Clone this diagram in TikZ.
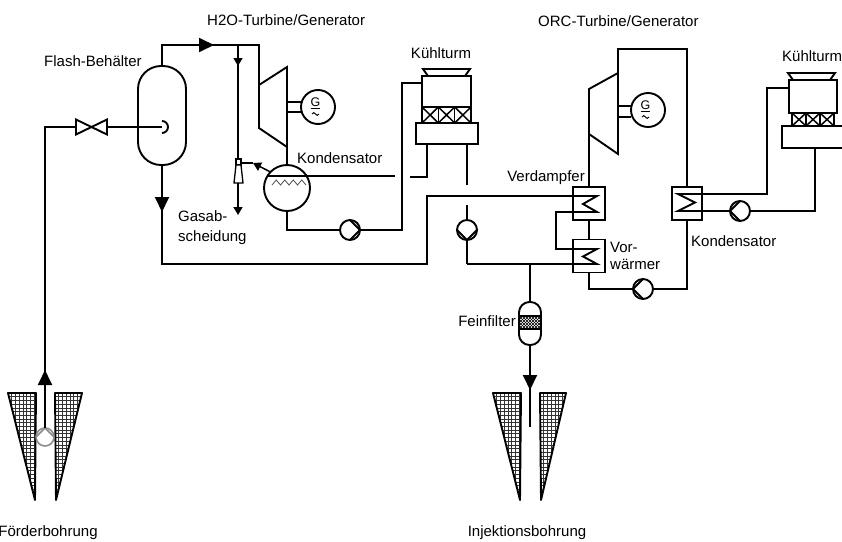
\documentclass[tikz,border=0pt]{standalone}
\usepackage{fontspec}
\setmainfont{Liberation Sans}
\usetikzlibrary{arrows.meta}
\begin{document}
\begin{tikzpicture}[x=1pt,y=-1pt,
  pipe/.style={line width=1.9pt},
  thinpipe/.style={line width=1.5pt},
  bigflow/.style={pipe,-{Triangle[length=15pt,width=14pt]}},
  smallflow/.style={thinpipe,-{Triangle[length=8pt,width=9pt]}},
  lbl/.style={font=\fontsize{15}{18}\selectfont, inner sep=0pt},
  glbl/.style={font=\fontsize{12.5}{13}\selectfont, inner sep=0pt},
  pumpbase/.style={circle, draw, line width=1.9pt, fill=white, minimum size=20pt, inner sep=0pt, outer sep=0pt},
  pumpR/.style={pumpbase, path picture={\draw[line width=1.8pt] (path picture bounding box.north) -- (path picture bounding box.east) -- (path picture bounding box.south);}},
  pumpL/.style={pumpbase, path picture={\draw[line width=1.8pt] (path picture bounding box.north) -- (path picture bounding box.west) -- (path picture bounding box.south);}},
  pumpD/.style={pumpbase, path picture={\draw[line width=1.8pt] (path picture bounding box.west) -- (path picture bounding box.south) -- (path picture bounding box.east);}},
  wellpump/.style={circle, draw=black!45, line width=1.6pt, fill=white, minimum size=18pt, inner sep=0pt, outer sep=0pt,
    path picture={\draw[black!45, line width=1.5pt] (path picture bounding box.west) -- (path picture bounding box.north) -- (path picture bounding box.east);}},
  gen/.style={circle, draw, line width=1.9pt, fill=white, minimum size=34pt, inner sep=0pt, outer sep=0pt},
  hx/.style={draw, line width=1.9pt, minimum width=32pt, minimum height=33pt, inner sep=0pt, outer sep=0pt},
  vessel/.style={draw, line width=1.9pt, inner sep=0pt, outer sep=0pt},
  boxpart/.style={draw, line width=1.9pt, inner sep=0pt, outer sep=0pt},
  fillx/.style={line width=1.5pt},
  gridline/.style={line width=0.45pt, black!80},
  wedgeline/.style={line width=1.9pt, line join=round},
]
\useasboundingbox (0,0) rectangle (842,541);

% ---------- wells (screened cones) ----------
\foreach \a/\b/\c in {8/36/35,55/82/56,493/521/520,540/566/541}{
  \begin{scope}
    \clip (\a,393) -- (\b,393) -- (\c,500) -- cycle;
    \foreach \k in {0,...,9} \draw[gridline] (\a+3.7*\k,390) -- (\a+3.7*\k,502);
    \foreach \k in {0,...,29} \draw[gridline] (\a-2,393+3.7*\k) -- (\b+2,393+3.7*\k);
  \end{scope}
  \draw[wedgeline] (\a,393) -- (\b,393) -- (\c,500) -- cycle;
}

% ---------- equipment ----------
\node[vessel, rounded corners=23pt, minimum width=48pt, minimum height=99pt] (flash) at (162,115.5) {};
\node[vessel, rounded corners=10.5pt, minimum width=22pt, minimum height=43pt] (filt) at (530,323.5) {};
\node[circle, draw, line width=1.9pt, minimum size=46pt, inner sep=0pt, outer sep=0pt] (condL) at (287,188) {};
\node[gen] (gen1) at (318,107) {};
\node[gen] (gen2) at (648,110) {};
\node[hx] (verd) at (589,203.5) {};
\node[hx] (vorw) at (589,256) {};
\node[hx, minimum width=30pt] (kondR) at (687,203.5) {};
\node[pumpR] (p1) at (350,230) {};
\node[pumpD] (p2) at (467,230) {};
\node[pumpL] (p3) at (740,211) {};
\node[pumpL] (p4) at (643,289) {};
\node[wellpump] (p5) at (45,437) {};

% cooling tower (H2O cycle)
\node[boxpart, minimum width=49pt, minimum height=31pt] (towL) at (446.5,91.5) {};
\node[boxpart, minimum width=62pt, minimum height=21pt] (basL) at (447,133.5) {};
\draw[pipe, line join=miter] (428,76) -- (423,69) -- (470,69) -- (465,76);
\foreach \i in {0,1,2}{
  \draw[fillx] (422+16.33*\i,107) rectangle (438.33+16.33*\i,123);
  \draw[fillx] (422+16.33*\i,107) -- (438.33+16.33*\i,123) (422+16.33*\i,123) -- (438.33+16.33*\i,107);
}
% cooling tower (ORC cycle)
\node[boxpart, minimum width=48pt, minimum height=33pt] (towR) at (813,96.5) {};
\draw[pipe] (842,126) -- (782,126) -- (782,148) -- (842,148);
\draw[pipe, line join=miter] (793,80) -- (788,73) -- (835,73) -- (830,80);
\foreach \i in {0,1,2}{
  \draw[fillx] (792+14*\i,113) rectangle (806+14*\i,126);
  \draw[fillx] (792+14*\i,113) -- (806+14*\i,126) (792+14*\i,126) -- (806+14*\i,113);
}

% ---------- production line and flash vessel ----------
\draw[pipe] (p5.north) -- (45,127) -- (76,127);
\draw[bigflow] (45,395) -- (45,370);
\draw[pipe, line join=miter] (76,119.5) -- (107,134.5) -- (107,119.5) -- (76,134.5) -- cycle;
\draw[pipe] (107,127) -- (162,127);
\draw[pipe] (162,121) arc[start angle=-90, end angle=90, radius=6];

% steam to H2O turbine
\draw[pipe] (flash.north) -- (162,45) -- (259,45) -- (259,85);
\draw[bigflow] (190,45) -- (214,45);
\draw[pipe, line join=miter] (259,85) -- (287,67) -- (287,147) -- (259,128) -- cycle;
\draw[pipe] (287,147) -- (condL.north);
\draw[pipe] (287,102) -- (302,102) (287,112) -- (302,112);
\node[glbl] (g1) at (315.5,103.5) {\underline{G}};
\draw[line width=0.9pt] (312,114) sin (313.75,112.6) cos (315.5,114) sin (317.25,115.4) cos (319,114);

% non-condensable gas extraction
\draw[thinpipe] (238,45) -- (238,159);
\draw[smallflow] (238,50) -- (238,66);
\draw[line width=1.3pt, fill=white] (236,159) rectangle (241,165);
\draw[line width=1.3pt, fill=white] (236,165) -- (241,165) -- (243,183) -- (234,183) -- cycle;
\draw[smallflow] (238,183) -- (238,215);
\draw[thinpipe] (241,163) -- (253,163);
\draw[smallflow] (270.5,172) -- (253,163);

% condenser internals and cooling water
\draw[pipe] (267.4,176) -- (395,176);
\draw[line width=0.8pt, black!70] (272,185) -- (276.25,180) -- (280.5,185) -- (284.75,180) -- (289,185) -- (293.25,180) -- (297.5,185) -- (301.75,180) -- (306,185);
\draw[pipe] (410,177) -- (427,177) -- (427,144);
\draw[pipe] (condL.south) -- (287,230) -- (p1.west);
\draw[pipe] (p1.east) -- (402,230) -- (402,83) -- (422,83);

% tower blow-down
\draw[pipe] (467,144) -- (467,185);
\draw[pipe] (467,205) -- (p2.north);
\draw[pipe] (p2.south) -- (467,264);

% brine through evaporator and preheater
\draw[pipe] (flash.south) -- (162,264) -- (427,264) -- (427,196) -- (597,196) -- (583,204) -- (597,212) -- (556,212) -- (556,249) -- (597,249) -- (583,256.5) -- (597,264) -- (467,264);
\draw[bigflow] (162,190) -- (162,212);
\draw[pipe] (530,264) -- (filt.north);
\draw[pipe] (filt.south) -- (530,427);
\draw[bigflow] (530,365) -- (530,390);
\begin{scope}
  \clip (519,316) rectangle (541,329);
  \foreach \k in {-6,...,10}{
    \draw[line width=0.6pt] (519+3*\k,316) -- +(13,13);
    \draw[line width=0.6pt] (519+3*\k,329) -- +(13,-13);
  }
\end{scope}
\draw[line width=1.5pt] (519,316) -- (541,316) (519,329) -- (541,329);

% ORC cycle
\draw[pipe] (verd.north) -- (589,89);
\draw[pipe, line join=miter] (589,89) -- (618,73) -- (618,154) -- (589,134) -- cycle;
\draw[pipe] (618,106) -- (631,106) (618,117) -- (631,117);
\node[glbl] (g2) at (645.5,106.5) {\underline{G}};
\draw[line width=0.9pt] (642,117) sin (643.75,115.6) cos (645.5,117) sin (647.25,118.4) cos (649,117);
\draw[pipe] (618,73) -- (618,49) -- (687,49) -- (kondR.north);
\draw[pipe] (verd.south) -- (vorw.north);
\draw[pipe] (vorw.south) -- (589,289) -- (p4.west);
\draw[pipe] (p4.east) -- (687,289) -- (kondR.south);
\draw[pipe] (702,194) -- (678,194) -- (695,202.5) -- (678,211) -- (702,211);
\draw[pipe] (702,194) -- (767,194) -- (767,88) -- (789,88);
\draw[pipe] (702,211) -- (p3.west);
\draw[pipe] (p3.east) -- (815,211) -- (815,148);

% ---------- labels ----------
\node[lbl, anchor=base west] (tFlash) at (44,66) {Flash-Behälter};
\node[lbl, anchor=base west] (tH2O) at (207,25) {H2O-Turbine/Generator};
\node[lbl, anchor=base] (tTowL) at (441,58) {Kühlturm};
\node[lbl, anchor=base west] (tKondL) at (297,163) {Kondensator};
\node[lbl, anchor=base west] (tGas1) at (178,221) {Gasab-};
\node[lbl, anchor=base west] (tGas2) at (178,241) {scheidung};
\node[lbl, anchor=base west] (tORC) at (538,26) {ORC-Turbine/Generator};
\node[lbl, anchor=base west] (tTowR) at (782,61) {Kühlturm};
\node[lbl, anchor=base east] (tVerd) at (585,181) {Verdampfer};
\node[lbl, anchor=base west] (tVor1) at (610,252) {Vor-};
\node[lbl, anchor=base west] (tVor2) at (610,269) {wärmer};
\node[lbl, anchor=base west] (tKondR) at (691,246) {Kondensator};
\node[lbl, anchor=base east] (tFilt) at (516,326) {Feinfilter};
\node[lbl, anchor=base] (tProd) at (48,536) {Förderbohrung};
\node[lbl, anchor=base] (tInj) at (527,536) {Injektionsbohrung};
\end{tikzpicture}
\end{document}
